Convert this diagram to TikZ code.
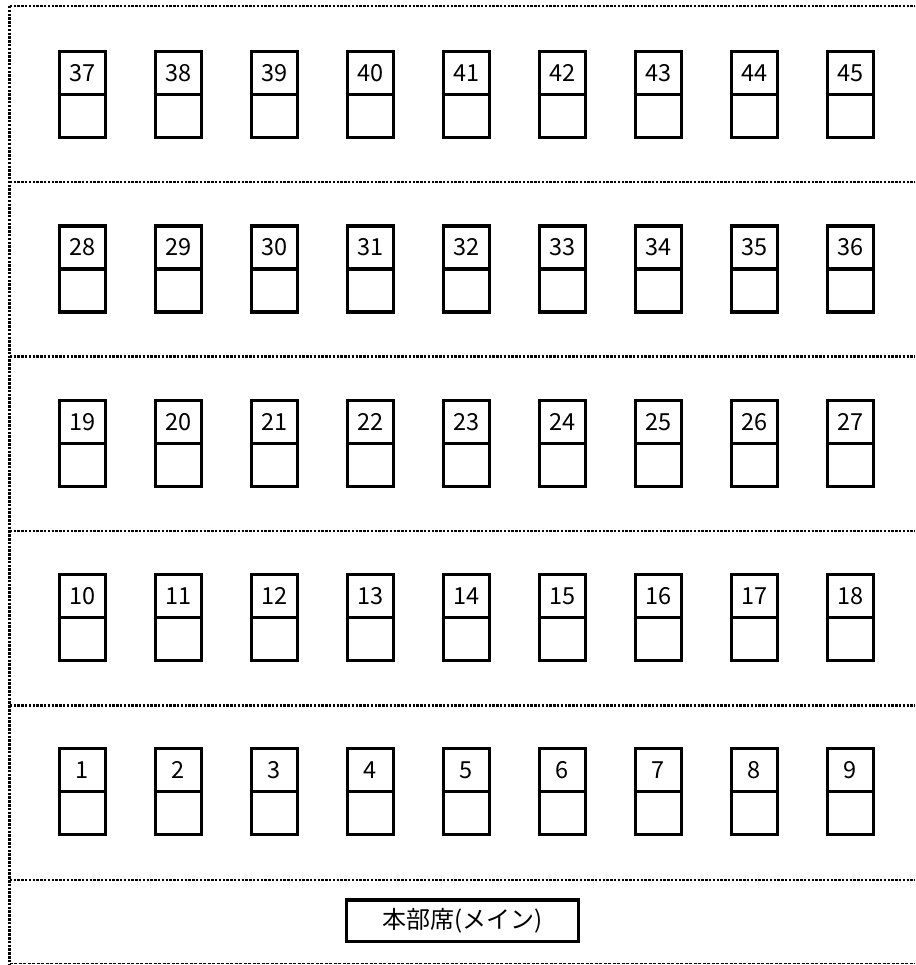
\documentclass[tikz,border=0pt]{standalone}
\usepackage{fontspec}
\setmainfont{Noto Sans CJK JP}
\begin{document}
\begin{tikzpicture}[x=1pt,y=-1pt,
  numcell/.style={draw, line width=3.4pt, minimum width=46pt, minimum height=43pt,
    inner sep=0pt, font=\fontsize{23.5}{23.5}\selectfont},
  blankcell/.style={draw, line width=3.4pt, minimum width=46pt, minimum height=43pt, inner sep=0pt},
  hqbox/.style={draw, line width=3.4pt, minimum width=231.6pt, minimum height=41.7pt,
    inner sep=0pt, font=\fontsize{24}{24}\selectfont},
  sepline/.style={line width=2.8pt, dash pattern=on 2.5pt off 1.3pt},
  bottomline/.style={line width=1pt, dash pattern=on 3pt off 1.5pt}]
\useasboundingbox (0,0) rectangle (915,965);
% outer frame and separators
\draw[sepline] (9.7,6) -- (915,6);
\draw[sepline] (9.7,6) -- (9.7,965);
\foreach \y in {182,356.5,531,705.5,880}
  \draw[sepline] (9.7,\y) -- (915,\y);
\draw[bottomline] (9.7,963.5) -- (915,963.5);
% seats
\foreach \r in {0,...,4} {
  \foreach \c in {0,...,8} {
    \pgfmathtruncatemacro{\n}{(4-\r)*9+\c+1}
    \pgfmathsetmacro{\cx}{82.3+96*\c}
    \pgfmathsetmacro{\ty}{51.7+174.25*\r}
    \node[numcell] (n\n) at (\cx,\ty+21.5) {\n};
    \node[blankcell] (b\n) at (\cx,\ty+64.5) {};
  }
}
% headquarters
\node[hqbox] (hq) at (462.5,920.8) {本部席(メイン)};
\end{tikzpicture}
\end{document}
